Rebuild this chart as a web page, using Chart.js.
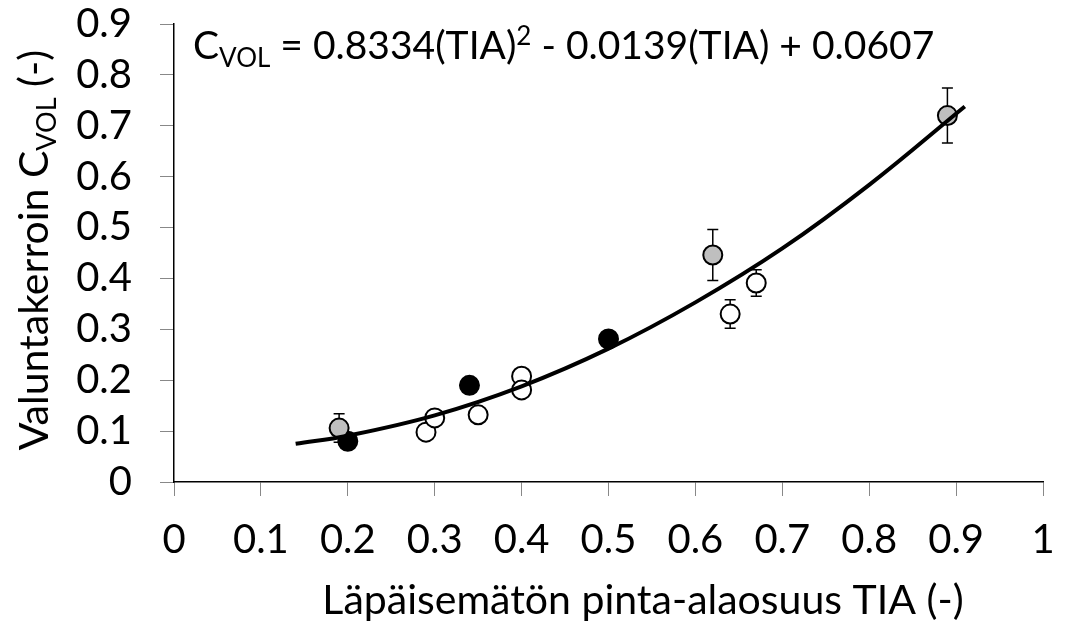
<!DOCTYPE html>
<html>
<head>
<meta charset="utf-8">
<script src="https://cdn.jsdelivr.net/npm/chart.js@4/dist/chart.umd.min.js"></script>
<style>
  html, body { margin: 0; padding: 0; background: #fff; }
  #wrap { width: 1075px; height: 627px; }
</style>
</head>
<body>
<div id="wrap"><canvas id="chart"></canvas></div>
<script>
const FONT = "Lato, 'Open Sans', sans-serif";

// grey points (with error bars)
const greyX = [0.19, 0.62, 0.89];
const greyY = [0.106, 0.446, 0.72];
const greyErr = [0.028, 0.05, 0.054];

// black points
const blackX = [0.2, 0.34, 0.5];
const blackY = [0.08, 0.19, 0.281];

// white points
const whiteX = [0.29, 0.3, 0.35, 0.4, 0.4, 0.64, 0.67];
const whiteY = [0.098, 0.126, 0.132, 0.208, 0.181, 0.33, 0.391];
const whiteErr = [0, 0, 0, 0, 0, 0.028, 0.026];

// trend line
const trendX = [0.14, 0.2, 0.3, 0.4, 0.5, 0.6, 0.7, 0.8, 0.91];
const trendY = [0.075, 0.091, 0.131, 0.188, 0.262, 0.353, 0.459, 0.584, 0.738];

const xTickLabels = ["0", "0.1", "0.2", "0.3", "0.4", "0.5", "0.6", "0.7", "0.8", "0.9", "1"];
const yTickLabels = ["0", "0.1", "0.2", "0.3", "0.4", "0.5", "0.6", "0.7", "0.8", "0.9"];

const yTitle = ["Valuntakerroin C", "VOL", " (-)"];
const xTitle = "Läpäisemätön pinta-alaosuus TIA (-)";

function pts(xs, ys) {
  return xs.map((x, i) => ({ x: x, y: ys[i] }));
}

// error bars under the markers
const errorBars = {
  id: "errorBars",
  beforeDatasetsDraw(chart) {
    const ctx = chart.ctx;
    const xs = chart.scales.x, ys = chart.scales.y;
    ctx.save();
    ctx.strokeStyle = "#000";
    ctx.lineWidth = 1.5;
    chart.data.datasets.forEach((ds) => {
      if (!ds.err) return;
      ds.data.forEach((p, i) => {
        const e = ds.err[i];
        if (!e) return;
        const px = xs.getPixelForValue(p.x);
        const top = ys.getPixelForValue(p.y + e);
        const bot = ys.getPixelForValue(p.y - e);
        ctx.beginPath();
        ctx.moveTo(px, top); ctx.lineTo(px, bot);
        ctx.moveTo(px - 5.5, top); ctx.lineTo(px + 5.5, top);
        ctx.moveTo(px - 5.5, bot); ctx.lineTo(px + 5.5, bot);
        ctx.stroke();
      });
    });
    ctx.restore();
  },
};

// equation + axis titles (need sub/superscripts)
const texts = {
  id: "texts",
  afterDraw(chart) {
    const ctx = chart.ctx;
    ctx.save();
    ctx.fillStyle = "#000";
    ctx.textBaseline = "alphabetic";
    ctx.textAlign = "left";

    // equation
    const eq = "39px " + FONT, eqSmall = "26px " + FONT;
    const parts = [
      ["C", eq, 0], ["VOL", eqSmall, 8], [" = 0.8334(TIA)", eq, 0],
      ["2", eqSmall, -14], [" - 0.0139(TIA) + 0.0607", eq, 0],
    ];
    let x = 193;
    parts.forEach(([t, f, dy]) => {
      ctx.font = f;
      ctx.fillText(t, x, 59 + dy);
      x += ctx.measureText(t).width;
    });

    // y title, rotated
    const big = "41px " + FONT, small = "27px " + FONT;
    ctx.save();
    ctx.translate(48, 250);
    ctx.rotate(-Math.PI / 2);
    const yp = [[yTitle[0], big, 0], [yTitle[1], small, 8], [yTitle[2], big, 0]];
    let w = 0;
    yp.forEach(([t, f]) => { ctx.font = f; w += ctx.measureText(t).width; });
    let yx = -w / 2;
    yp.forEach(([t, f, dy]) => {
      ctx.font = f;
      ctx.fillText(t, yx, dy);
      yx += ctx.measureText(t).width;
    });
    ctx.restore();

    // x title
    ctx.font = big;
    ctx.textAlign = "center";
    ctx.fillText(xTitle, 643, 614);
    ctx.restore();
  },
};

new Chart(document.getElementById("chart"), {
  type: "scatter",
  data: {
    datasets: [
      {
        type: "line",
        label: "trend",
        data: pts(trendX, trendY),
        borderColor: "#000",
        borderWidth: 4,
        pointRadius: 0,
        tension: 0.4,
        fill: false,
        order: 0,
      },
      {
        label: "grey",
        data: pts(greyX, greyY),
        err: greyErr,
        pointRadius: 9.5,
        backgroundColor: "#bfbfbf",
        borderColor: "#000",
        borderWidth: 2,
        order: 1,
      },
      {
        label: "black",
        data: pts(blackX, blackY),
        pointRadius: 9.5,
        backgroundColor: "#000",
        borderColor: "#000",
        borderWidth: 2,
        order: 2,
      },
      {
        label: "white",
        data: pts(whiteX, whiteY),
        err: whiteErr,
        pointRadius: 9.5,
        backgroundColor: "#fff",
        borderColor: "#000",
        borderWidth: 2,
        order: 3,
      },
    ],
  },
  options: {
    responsive: true,
    maintainAspectRatio: false,
    animation: false,
    layout: { padding: { top: 24, right: 32, left: 0, bottom: 0 } },
    plugins: {
      legend: { display: false },
      tooltip: { enabled: false },
    },
    scales: {
      x: {
        type: "linear",
        min: 0,
        max: 1,
        afterFit(scale) {
          scale.height = 145;
          scale.paddingLeft = 0;
          scale.paddingRight = 0;
        },
        afterBuildTicks(scale) {
          scale.ticks = xTickLabels.map((t, i) => ({ value: i / 10 }));
        },
        ticks: {
          font: { family: FONT, size: 40 },
          color: "#000",
          padding: 20,
          maxRotation: 0,
          autoSkip: false,
          callback: (v, i) => xTickLabels[i],
        },
        grid: { drawOnChartArea: false, drawTicks: true, tickLength: 14, color: "#888" },
        border: { color: "#000", width: 1.5 },
      },
      y: {
        type: "linear",
        min: 0,
        max: 0.9,
        afterFit(scale) {
          scale.width = 174;
          scale.paddingTop = 0;
          scale.paddingBottom = 0;
        },
        afterBuildTicks(scale) {
          scale.ticks = yTickLabels.map((t, i) => ({ value: i / 10 }));
        },
        ticks: {
          font: { family: FONT, size: 40 },
          color: "#000",
          padding: 28,
          autoSkip: false,
          callback: (v, i) => yTickLabels[i],
        },
        grid: { drawOnChartArea: false, drawTicks: true, tickLength: 14, color: "#888" },
        border: { color: "#000", width: 1.5 },
      },
    },
  },
  plugins: [errorBars, texts],
});
</script>
</body>
</html>
